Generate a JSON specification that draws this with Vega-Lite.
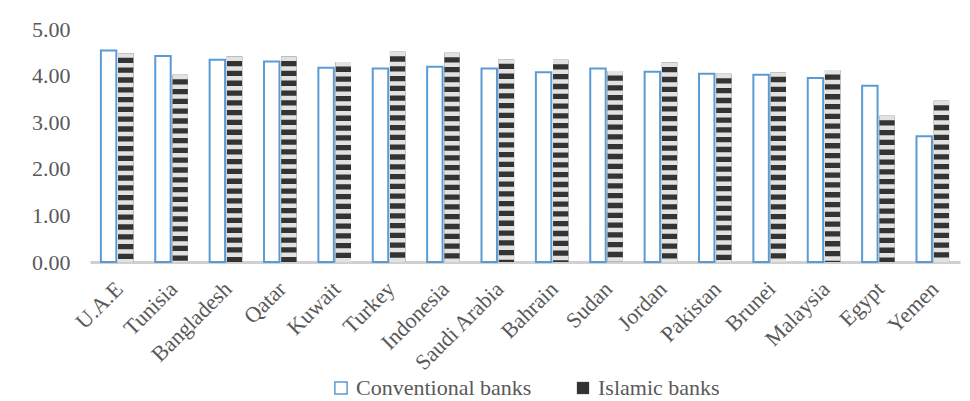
{
  "$schema": "https://vega.github.io/schema/vega-lite/v6.json",
  "width": 870,
  "height": 233,
  "autosize": {"type": "none"},
  "padding": {"left": 90, "top": 29, "right": 10, "bottom": 139},
  "background": "white",
  "config": {
    "view": {"stroke": null},
    "font": "Liberation Serif",
    "axis": {"labelFont": "Liberation Serif", "labelColor": "#595959", "labelFontSize": 22, "grid": false, "ticks": false, "title": null},
    "legend": {"labelFont": "Liberation Serif", "labelColor": "#595959", "labelFontSize": 22, "labelLimit": 0, "layout": {"bottom": {"anchor": "middle"}}}
  },
  "data": {
    "values": [
      {"country": "U.A.E", "type": "Conventional banks", "value": 4.54},
      {"country": "U.A.E", "type": "Islamic banks", "value": 4.48},
      {"country": "Tunisia", "type": "Conventional banks", "value": 4.42},
      {"country": "Tunisia", "type": "Islamic banks", "value": 4.02},
      {"country": "Bangladesh", "type": "Conventional banks", "value": 4.34},
      {"country": "Bangladesh", "type": "Islamic banks", "value": 4.41},
      {"country": "Qatar", "type": "Conventional banks", "value": 4.30},
      {"country": "Qatar", "type": "Islamic banks", "value": 4.41},
      {"country": "Kuwait", "type": "Conventional banks", "value": 4.17},
      {"country": "Kuwait", "type": "Islamic banks", "value": 4.29},
      {"country": "Turkey", "type": "Conventional banks", "value": 4.15},
      {"country": "Turkey", "type": "Islamic banks", "value": 4.51},
      {"country": "Indonesia", "type": "Conventional banks", "value": 4.19},
      {"country": "Indonesia", "type": "Islamic banks", "value": 4.49},
      {"country": "Saudi Arabia", "type": "Conventional banks", "value": 4.15},
      {"country": "Saudi Arabia", "type": "Islamic banks", "value": 4.35},
      {"country": "Bahrain", "type": "Conventional banks", "value": 4.07},
      {"country": "Bahrain", "type": "Islamic banks", "value": 4.34},
      {"country": "Sudan", "type": "Conventional banks", "value": 4.15},
      {"country": "Sudan", "type": "Islamic banks", "value": 4.10},
      {"country": "Jordan", "type": "Conventional banks", "value": 4.08},
      {"country": "Jordan", "type": "Islamic banks", "value": 4.28},
      {"country": "Pakistan", "type": "Conventional banks", "value": 4.04},
      {"country": "Pakistan", "type": "Islamic banks", "value": 4.04},
      {"country": "Brunei", "type": "Conventional banks", "value": 4.02},
      {"country": "Brunei", "type": "Islamic banks", "value": 4.07},
      {"country": "Malaysia", "type": "Conventional banks", "value": 3.95},
      {"country": "Malaysia", "type": "Islamic banks", "value": 4.12},
      {"country": "Egypt", "type": "Conventional banks", "value": 3.78},
      {"country": "Egypt", "type": "Islamic banks", "value": 3.14},
      {"country": "Yemen", "type": "Conventional banks", "value": 2.70},
      {"country": "Yemen", "type": "Islamic banks", "value": 3.46}
    ]
  },
  "encoding": {
    "x": {
      "field": "country", "type": "nominal", "sort": null,
      "scale": {"paddingInner": 0.4, "paddingOuter": 0.2},
      "axis": {"labelAngle": -45, "domainColor": "#d0d0d0", "domainWidth": 3, "labelPadding": 16, "labelOffset": -5}
    },
    "xOffset": {"field": "type", "type": "nominal", "scale": {"paddingInner": 0.1}},
    "y": {
      "field": "value", "type": "quantitative",
      "scale": {"domain": [0, 5], "nice": false},
      "axis": {"values": [0, 1, 2, 3, 4, 5], "format": ".2f", "domain": false, "labelPadding": 20}
    }
  },
  "layer": [
    {
      "mark": {"type": "bar", "strokeWidth": 2},
      "encoding": {
        "fill": {
          "field": "type", "type": "nominal",
          "scale": {"domain": ["Conventional banks", "Islamic banks"], "range": ["#ffffff", "#333333"]},
          "legend": {"orient": "bottom", "direction": "horizontal", "title": null, "symbolType": "square", "symbolSize": 150, "symbolStrokeWidth": 1.5, "columnPadding": 40, "offset": 2}
        },
        "stroke": {
          "field": "type", "type": "nominal",
          "scale": {"domain": ["Conventional banks", "Islamic banks"], "range": ["#5B9BD5", "rgba(0,0,0,0)"]},
          "legend": {"orient": "bottom", "direction": "horizontal", "title": null, "symbolType": "square", "symbolSize": 150, "symbolStrokeWidth": 1.5, "columnPadding": 40, "offset": 2}
        }
      }
    },
    {
      "transform": [{"filter": "datum.type === 'Islamic banks'"}],
      "mark": {"type": "rule", "color": "#e2e2e2", "strokeWidth": 15.5, "strokeDash": [4.5, 5.3], "strokeCap": "butt"},
      "encoding": {
        "y2": {"datum": 0}
      }
    }
  ]
}
